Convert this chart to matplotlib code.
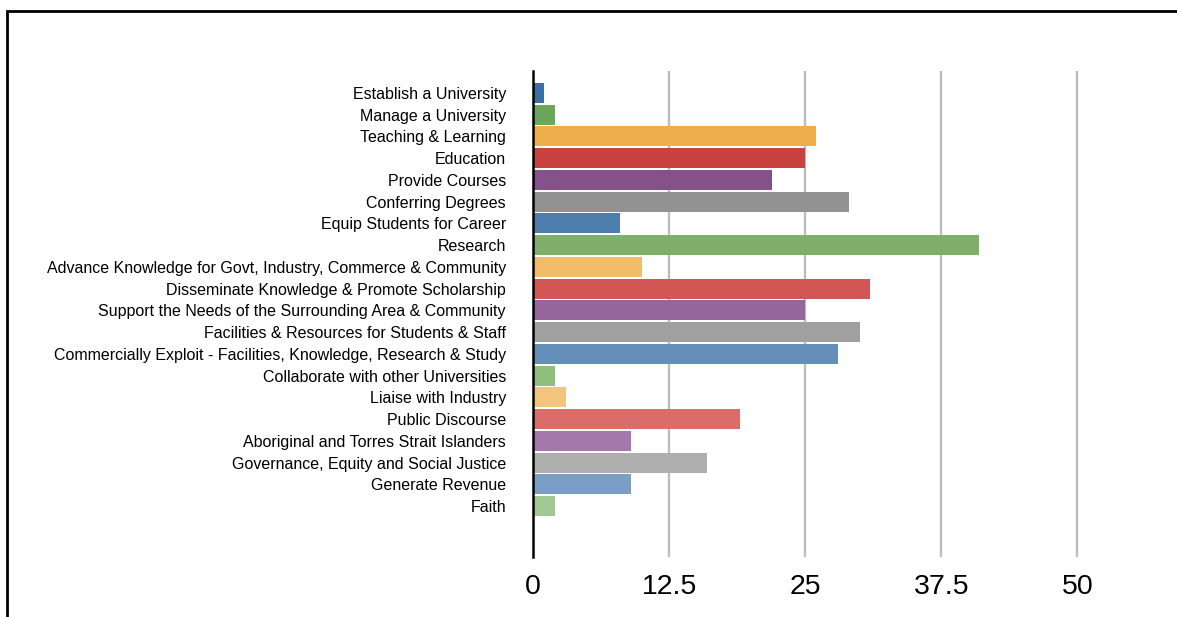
import matplotlib
matplotlib.use('Agg')
import matplotlib.pyplot as plt
from matplotlib.patches import Rectangle

# Data
categories = [
    'Establish a University',
    'Manage a University',
    'Teaching & Learning',
    'Education',
    'Provide Courses',
    'Conferring Degrees',
    'Equip Students for Career',
    'Research',
    'Advance Knowledge for Govt, Industry, Commerce & Community',
    'Disseminate Knowledge & Promote Scholarship',
    'Support the Needs of the Surrounding Area & Community',
    'Facilities & Resources for Students & Staff',
    'Commercially Exploit - Facilities, Knowledge, Research & Study',
    'Collaborate with other Universities',
    'Liaise with Industry',
    'Public Discourse',
    'Aboriginal and Torres Strait Islanders',
    'Governance, Equity and Social Justice',
    'Generate Revenue',
    'Faith',
]
values = [1, 2, 26, 25, 22, 29, 8, 41, 10, 31, 25, 30, 28, 2, 3, 19, 9, 16, 9, 2]
x_ticks = [0, 12.5, 25, 37.5, 50]
x_tick_labels = ['0', '12.5', '25', '37.5', '50']

bar_colors = [
    '#3b6fa6', '#6aa75a', '#efae4e', '#c9423f', '#85518b', '#929292',
    '#4d7eab', '#7eaf6b', '#f1bd68', '#d25754', '#96659c', '#a0a0a0',
    '#658fb8', '#8fbd7c', '#f2c57c', '#da6d6a', '#a478aa', '#afafaf',
    '#7b9ec6', '#a2c993',
]

plt.rcParams['font.family'] = ['Liberation Sans', 'DejaVu Sans']

W, H = 1177, 617
fig = plt.figure(figsize=(W / 100, H / 100), dpi=100)

# outer frame (right and bottom edges fall outside the image)
fig.patches.append(Rectangle((6.5 / W, -0.1), 1.2, 1 - 10.5 / H + 0.1,
                             transform=fig.transFigure, fill=False,
                             edgecolor='black', linewidth=2))

left, right, top, bottom = 533, 1080, 71, 557
ax = fig.add_axes([left / W, 1 - bottom / H, (right - left) / W, (bottom - top) / H])

y = list(range(len(categories)))
ax.barh(y, values, color=bar_colors, height=0.92, zorder=3)

ax.set_xlim(0, 50.25)
ax.set_ylim(21.34, -1.01)
ax.set_xticks(x_ticks)
ax.set_xticklabels(x_tick_labels, fontsize=20.5)
ax.set_yticks(y)
ax.set_yticklabels(categories, fontsize=11.5)
ax.tick_params(axis='y', length=0, pad=19.5)
ax.tick_params(axis='x', length=0, pad=12)

ax.grid(True, axis='x', color='#bdbdbd', linewidth=1.7, zorder=1)
ax.set_axisbelow(True)
for side in ['top', 'right', 'bottom']:
    ax.spines[side].set_visible(False)
ax.spines['left'].set_linewidth(1.8)
ax.spines['left'].set_color('black')
ax.spines['left'].set_zorder(4)

fig.savefig('out.png', dpi=100)
